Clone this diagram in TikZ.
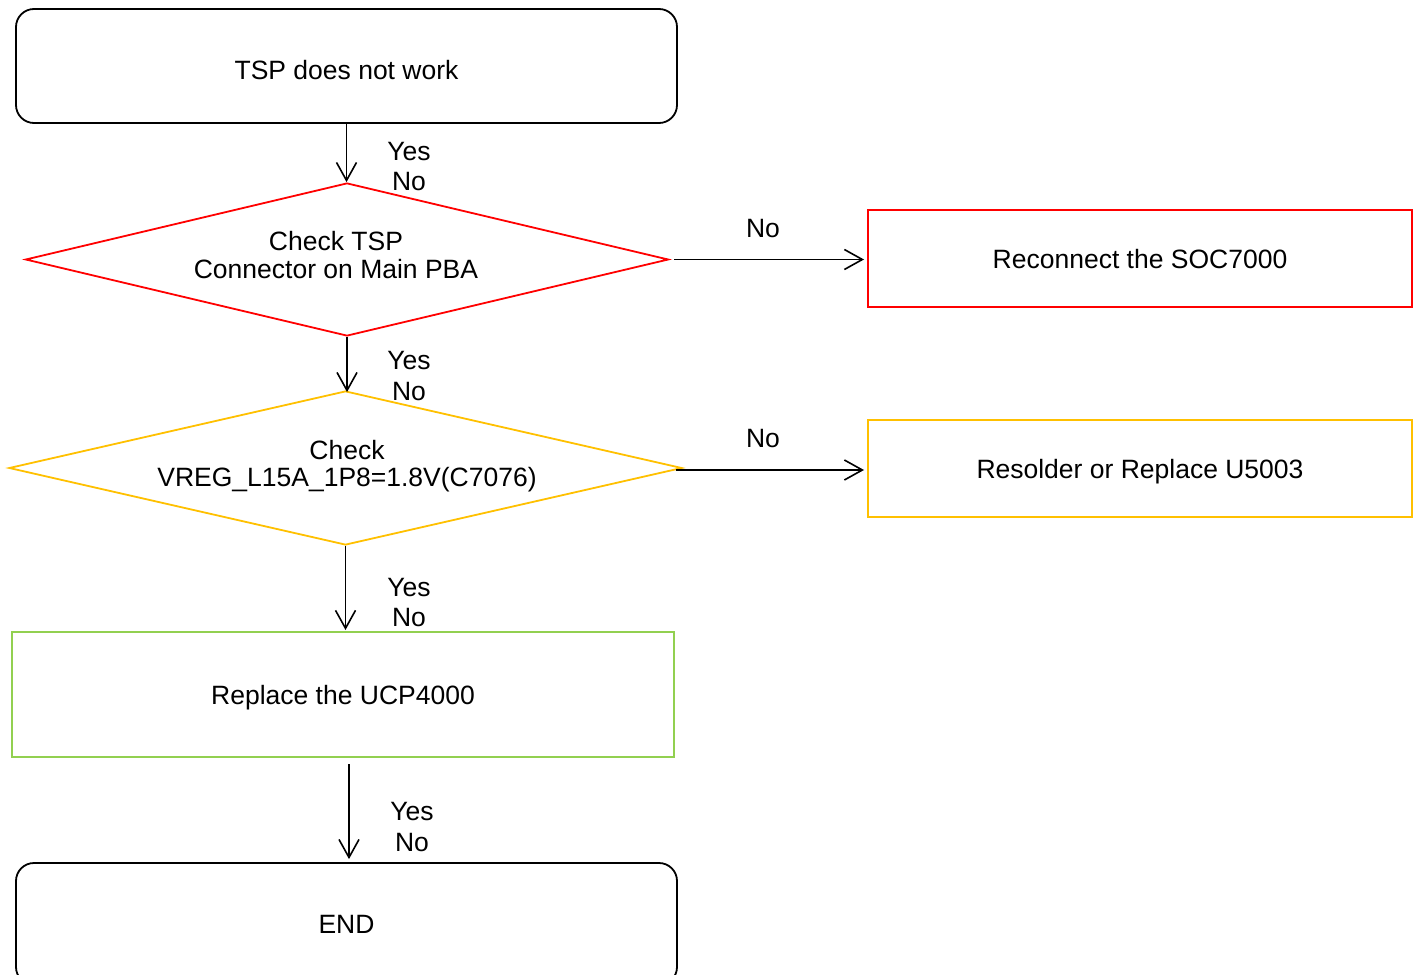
\documentclass[tikz,border=0pt]{standalone}
\usepackage{fontspec}
\setmainfont{Liberation Sans}
\usetikzlibrary{shapes.geometric,arrows.meta}
\definecolor{cred}{HTML}{FF0000}
\definecolor{cyel}{HTML}{FFC000}
\definecolor{cgrn}{HTML}{92D050}
\begin{document}
\begin{tikzpicture}[x=0.5pt,y=-0.5pt,
  font=\fontsize{13.25}{13.8}\selectfont,
  rbox/.style={draw=black, line width=0.9pt, rounded corners=9pt, minimum width=330.5pt, inner sep=0pt, text height=10.8pt, text depth=0pt},
  sbox/.style={draw=#1, line width=1pt, inner sep=0pt, text height=10.2pt, text depth=0pt},
  dia/.style={draw=#1, diamond, line width=0.9pt, inner sep=0pt},
  arr/.style={draw=black, line width=0.8pt, -{Straight Barb[length=9pt,width=10pt,line width=0.8pt]}},
  lbl/.style={inner sep=0pt}]
\useasboundingbox (0,0) rectangle (1418,974);
\clip (0,0) rectangle (1418,974);

% nodes
\node[rbox, minimum height=57pt, text height=13.8pt] (b1) at (346.5,66) {TSP does not work};
\node[dia=cred, minimum width=321.5pt, minimum height=76.5pt, aspect=4.2] (d1) at (347,259.5) {};
\node[lbl, align=center] (t1) at (336,255) {Check TSP\\Connector on Main PBA};
\node[sbox=cred, minimum width=272pt, minimum height=48.5pt] (r1) at (1140,258.5) {Reconnect the SOC7000};
\node[dia=cyel, minimum width=336.5pt, minimum height=77pt, aspect=4.37] (d2) at (345.5,468) {};
\node[lbl, align=center] (t2) at (347,466) {Check\\VREG\_L15A\_1P8=1.8V(C7076)};
\node[sbox=cyel, minimum width=272pt, minimum height=48.5pt] (r2) at (1140,468.5) {Resolder or Replace U5003};
\node[sbox=cgrn, minimum width=331pt, minimum height=62.5pt] (g) at (343,694.5) {Replace the UCP4000};
\node[rbox, minimum height=61pt, text height=9.6pt] (e) at (346.5,924) {END};

% connectors
\draw[arr] (b1.south) -- (b1.south |- d1.north);
\draw[arr, shorten >=-1pt] (d1.south) -- (d1.south |- d2.north);
\draw[arr, shorten >=0.5pt] (d2.south) -- (d2.south |- g.north);
\draw[arr, shorten <=3pt, shorten >=1.5pt] ([xshift=3pt]g.south) -- ([xshift=3pt]g.south |- e.north);
\draw[arr, shorten <=2.5pt, shorten >=1.5pt] (d1.east) -- (d1.east -| r1.west);
\draw[arr, shorten <=-3.5pt, shorten >=1.5pt] ([yshift=-1pt]d2.east) -- ([yshift=-1pt]d2.east -| r2.west);

% labels
\node[lbl] (y1) at (409,152) {Yes};
\node[lbl] (n1) at (409,182) {No};
\node[lbl] (y2) at (409,361) {Yes};
\node[lbl] (n2) at (409,392) {No};
\node[lbl] (y3) at (409,588) {Yes};
\node[lbl] (n3) at (409,618) {No};
\node[lbl] (y4) at (412,812) {Yes};
\node[lbl] (n4) at (412,843) {No};
\node[lbl] (n5) at (763,229) {No};
\node[lbl] (n6) at (763,439) {No};
\end{tikzpicture}
\end{document}
